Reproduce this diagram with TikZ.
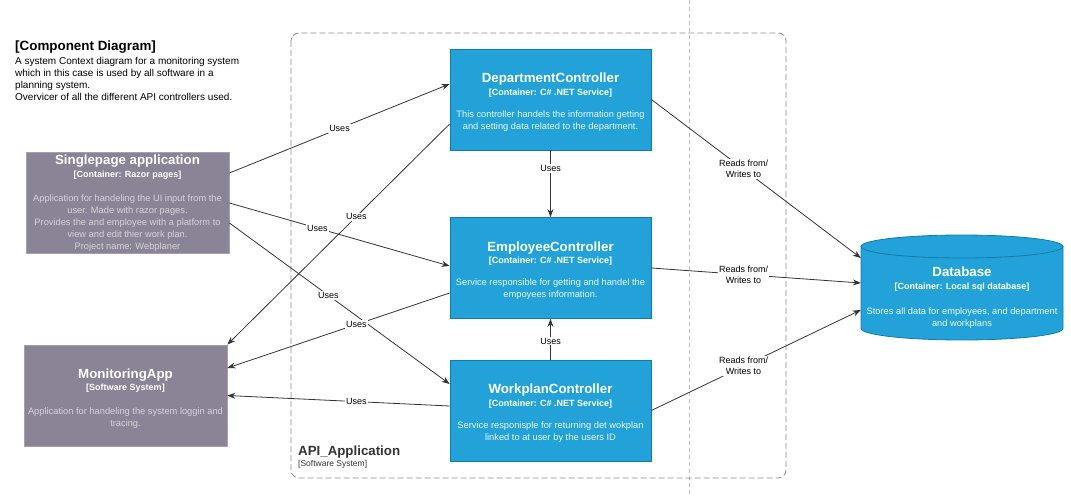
\documentclass[tikz,border=0pt]{standalone}
\usepackage{fontspec}
\setmainfont{Liberation Sans}
\usetikzlibrary{arrows.meta}
\definecolor{purp}{HTML}{8B8496}
\definecolor{purpline}{HTML}{A59FAE}
\definecolor{purptext}{HTML}{D6D3DA}
\definecolor{blu}{HTML}{23A2D9}
\definecolor{bluline}{HTML}{0E7DAD}
\definecolor{blutext}{HTML}{EAF6FC}
\definecolor{edge}{HTML}{333333}
\newcommand{\cttl}[1]{{\fontsize{13.3}{13}\selectfont\bfseries #1}}
\newcommand{\csub}[1]{{\fontsize{9}{10}\selectfont\bfseries #1}}
\tikzset{
  sysbox/.style={draw=purpline, fill=purp, line width=0.8pt, minimum width=203pt, minimum height=101pt, align=center, text=purptext, font=\fontsize{9.3}{12}\selectfont, inner sep=0pt},
  compbox/.style={draw=bluline, fill=blu, line width=0.8pt, minimum width=201pt, minimum height=101pt, align=center, text=blutext, font=\fontsize{9.3}{12}\selectfont, inner sep=0pt},
  rel/.style={draw=edge, line width=0.8pt, -{Stealth[length=8pt,width=6pt]}},
  lbl/.style={fill=white, inner sep=1pt, font=\fontsize{9}{11}\selectfont, text=black, align=center},
}
\begin{document}
\begin{tikzpicture}[x=1pt,y=-1pt]
\useasboundingbox (0,0) rectangle (1071,497);
% page break line
\draw[draw=black!25, dash pattern=on 4pt off 3pt, line width=0.6pt] (689,0) -- (689,497);
% boundary
\draw[draw=black!45, dash pattern=on 6pt off 3pt, line width=0.8pt, rounded corners=8pt] (291,33) rectangle (786,478);
\node[anchor=north west, inner sep=0pt, align=left, text=black!80] (apilbl) at (298,446) {\fontsize{13.3}{13}\selectfont\bfseries API\_Application\\[-1pt]{\fontsize{8.5}{10}\selectfont [Software System]}};
% title
\node[anchor=north west, inner sep=0pt, align=left] (title) at (15,41) {{\fontsize{13.4}{14}\selectfont\bfseries [Component Diagram]}\\[1.5pt]
{\fontsize{10}{12.3}\selectfont A system Context diagram for a monitoring system}\\
{\fontsize{10}{12.3}\selectfont which in this case is used by all software in a}\\
{\fontsize{10}{12.3}\selectfont planning system.}\\
{\fontsize{10}{12.3}\selectfont Overvicer of all the different API controllers used.}};
% left systems
\node[sysbox] (spa) at (127.5,203) {\textcolor{white}{\cttl{Singlepage application}}\\[1.5pt]
\textcolor{white}{\csub{[Container: Razor pages]}}\\[12pt]
Application for handeling the UI input from the\\
user. Made with razor pages.\\
Provides the and employee with a platform to\\
view and edit thier work plan.\\
Project name: Webplaner};
\node[sysbox] (mon) at (125.5,395.5) {\rule{0pt}{15pt}\textcolor{white}{\cttl{MonitoringApp}}\\[0pt]
\textcolor{white}{\csub{[Software System]}}\\[12pt]
Application for handeling the system loggin and\\
tracing.};
% controllers
\node[compbox] (dept) at (550.5,99.5) {\rule{0pt}{15pt}\textcolor{white}{\cttl{DepartmentController}}\\[0.5pt]
\textcolor{white}{\csub{[Container: C\# .NET Service]}}\\[10pt]
This controller handels the information getting\\
and setting data related to the department.};
\node[compbox] (emp) at (550.5,268) {\rule{0pt}{15pt}\textcolor{white}{\cttl{EmployeeController}}\\[0.5pt]
\textcolor{white}{\csub{[Container: C\# .NET Service]}}\\[10pt]
Service responsible for getting and handel the\\
empoyees information.};
\node[compbox] (work) at (550.5,410.5) {\rule{0pt}{15pt}\textcolor{white}{\cttl{WorkplanController}}\\[0.5pt]
\textcolor{white}{\csub{[Container: C\# .NET Service]}}\\[10pt]
Service responisple for returning det wokplan\\
linked to at user by the users ID};
% database cylinder
\fill[blu] (861,246.5) -- (861,328.5) arc[start angle=180,end angle=0,x radius=101,y radius=11.5] -- (1063,246.5) arc[start angle=0,end angle=-180,x radius=101,y radius=11.5] -- cycle;
\draw[bluline, line width=0.8pt] (861,246.5) -- (861,328.5) arc[start angle=180,end angle=0,x radius=101,y radius=11.5] -- (1063,246.5) arc[start angle=0,end angle=-180,x radius=101,y radius=11.5] -- cycle;
\draw[bluline, line width=0.8pt] (861,246.5) arc[start angle=180,end angle=0,x radius=101,y radius=11.5];
\node[minimum width=202pt, minimum height=82pt, align=center, text=blutext, font=\fontsize{9.3}{12}\selectfont, inner sep=0pt] (db) at (962,298) {\textcolor{white}{\cttl{Database}}\\[1pt]
\textcolor{white}{\csub{[Container: Local sql database]}}\\[13pt]
Stores all data for employees, and department\\
and workplans};
% relations
\draw[rel] ([yshift=30pt]spa.east) -- node[lbl, pos=0.5]{Uses} ([yshift=15.5pt]dept.west);
\draw[rel] (spa.east) -- node[lbl, pos=0.4]{Uses} ([yshift=2pt]emp.west);
\draw[rel] ([yshift=-20pt]spa.east) -- node[lbl, pos=0.45]{Uses} ([yshift=26.5pt]work.west);
\draw[rel] ([yshift=-24.5pt]dept.west) -- node[lbl, pos=0.42]{Uses} (mon.north east);
\draw[rel] ([yshift=-25pt]emp.west) -- node[lbl, pos=0.42]{Uses} ([yshift=27.5pt]mon.east);
\draw[rel] ([yshift=4.5pt]work.west) -- node[lbl, pos=0.42]{Uses} (mon.east);
\draw[rel] (dept.south) -- node[lbl, pos=0.27]{Uses} (emp.north);
\draw[rel] (work.north) -- node[lbl, pos=0.45]{Uses} (emp.south);
\draw[rel] (dept.east) -- node[lbl, pos=0.44]{Reads from/\\Writes to} ([yshift=40pt]db.west);
\draw[rel] (emp.east) -- node[lbl, pos=0.44]{Reads from/\\Writes to} ([yshift=15pt]db.west);
\draw[rel] (work.east) -- node[lbl, pos=0.44]{Reads from/\\Writes to} ([yshift=-12pt]db.west);
\end{tikzpicture}
\end{document}
